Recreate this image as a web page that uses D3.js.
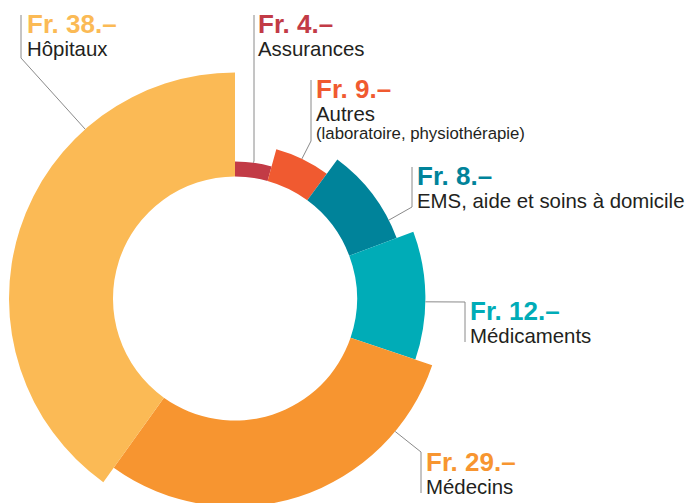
<!DOCTYPE html>
<html>
<head>
<meta charset="utf-8">
<title>donut</title>
<script src="https://cdn.jsdelivr.net/npm/d3@7/dist/d3.min.js"></script>
<style>
  body { margin: 0; background: #fff; }
  svg { display: block; font-family: "Liberation Sans", Arial, sans-serif; }
  .amount { font-size: 26px; font-weight: bold; }
  .name { font-size: 20.4px; fill: #231f20; }
  .sub { font-size: 16.8px; fill: #231f20; }
  .leader { fill: none; stroke: #8a8a8a; stroke-width: 1px; }
</style>
</head>
<body>
<svg width="688" height="503"></svg>
<script>
// data, clockwise from 12 o'clock
var categories = ["Assurances", "Autres", "EMS, aide et soins à domicile", "Médicaments", "Médecins", "Hôpitaux"];
var subtitles = ["", "(laboratoire, physiothérapie)", "", "", "", ""];
var amounts = [4, 9, 8, 12, 29, 38];
// share of the circle each slice takes (%)
var shares = [4.3, 5.8, 9.2, 10.9, 29.7, 40.1];

var color = d3.scaleOrdinal()
  .domain(categories)
  .range(["#c23b46", "#f05a30", "#00839a", "#00acb7", "#f79530", "#fbba55"]);

// label placement: text x / first baseline, leader vertical, anchor angle on the arc (deg)
var layout = [
  {tx: 258, ty: 33, lx: 254, top: 15, bottom: 161, join: "bottom", angle: 7.7},
  {tx: 316, ty: 98, lx: 311, top: 80, bottom: 141, join: "bottom", angle: 25.6},
  {tx: 417, ty: 185, lx: 412, top: 167, bottom: 207, join: "bottom", angle: 63},
  {tx: 470, ty: 320, lx: 465, top: 302, bottom: 342, join: "top", angle: 91},
  {tx: 426, ty: 471, lx: 421, top: 452, bottom: 493, join: "top", angle: 129.7},
  {tx: 27, ty: 33, lx: 21, top: 15, bottom: 58, join: "bottom", angle: 318.5}
];

var svg = d3.select("svg"),
  cx = 235, cy = 298.5,
  innerR = 122;

var outer = d3.scaleLinear()
  .domain([0, categories.length - 1])
  .range([137, 226]);

var pie = d3.pie().sort(null).value(function(d) { return d; });
var arcs = pie(shares);

var arc = d3.arc()
  .innerRadius(innerR)
  .outerRadius(function(d) { return outer(d.index); });

var g = svg.append("g").attr("transform", "translate(" + cx + "," + cy + ")");

g.selectAll("path")
  .data(arcs)
  .enter()
  .append("path")
  .attr("d", arc)
  .attr("fill", function(d, i) { return color(categories[i]); });

// leaders
var line = d3.line();
svg.selectAll(".leader")
  .data(arcs)
  .enter()
  .append("path")
  .attr("class", "leader")
  .attr("d", function(d, i) {
    var L = layout[i],
      a = L.angle * Math.PI / 180,
      r = outer(i),
      ax = cx + r * Math.sin(a),
      ay = cy - r * Math.cos(a);
    var pts = L.join === "bottom"
      ? [[L.lx, L.top], [L.lx, L.bottom], [ax, ay]]
      : [[L.lx, L.bottom], [L.lx, L.top], [ax, ay]];
    return line(pts);
  });

// labels
var labels = svg.selectAll(".label")
  .data(categories)
  .enter()
  .append("g")
  .attr("class", "label");

labels.append("text")
  .attr("class", "amount")
  .attr("x", function(d, i) { return layout[i].tx; })
  .attr("y", function(d, i) { return layout[i].ty; })
  .attr("fill", function(d) { return color(d); })
  .text(function(d, i) { return "Fr. " + amounts[i] + ".–"; });

labels.append("text")
  .attr("class", "name")
  .attr("x", function(d, i) { return layout[i].tx; })
  .attr("y", function(d, i) { return layout[i].ty + 23; })
  .text(function(d) { return d; });

labels.filter(function(d, i) { return subtitles[i]; })
  .append("text")
  .attr("class", "sub")
  .attr("x", function(d, i) { return layout[categories.indexOf(d)].tx; })
  .attr("y", function(d) { return layout[categories.indexOf(d)].ty + 41; })
  .text(function(d) { return subtitles[categories.indexOf(d)]; });
</script>
</body>
</html>
